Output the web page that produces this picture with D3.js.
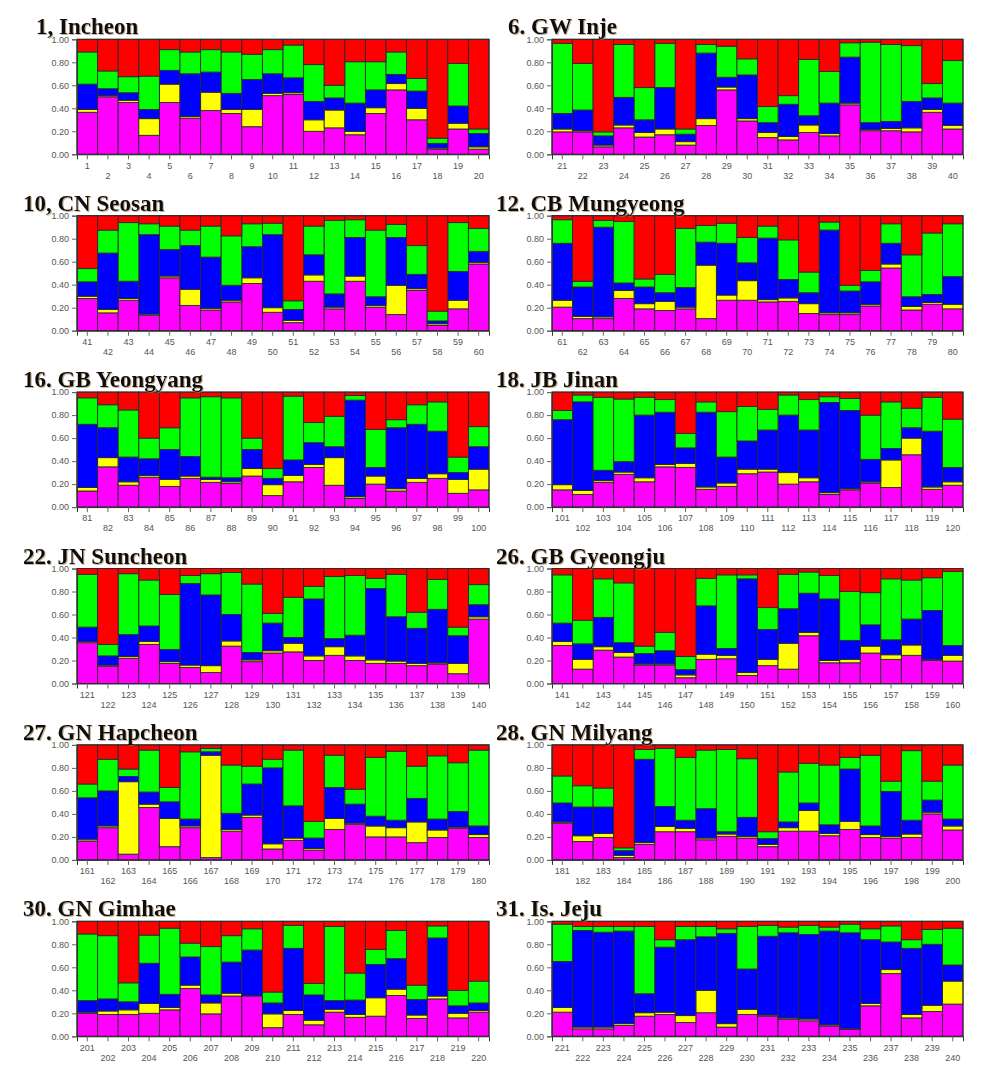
<!DOCTYPE html>
<html>
<head>
<meta charset="utf-8">
<script src="https://cdn.jsdelivr.net/npm/d3@7"></script>
<style>
  body { margin: 0; background: #fff; }
  .tick text { font-family: "Liberation Sans", Arial, sans-serif; font-size: 9px; fill: #555; }
  .tick line { stroke: #666; }
  .domain { stroke: #333; }
  .title { font-family: "Liberation Serif", "Times New Roman", serif; font-weight: bold; font-size: 23px; fill: #111; }
</style>
</head>
<body>
<div id="chart"></div>
<script>
// population titles, one per panel (reading order)
const titles = ["1, Incheon", "6. GW Inje", "10, CN Seosan", "12. CB Mungyeong",
  "16. GB Yeongyang", "18. JB Jinan", "22. JN Suncheon", "26. GB Gyeongju",
  "27. GN Hapcheon", "28. GN Milyang", "30. GN Gimhae", "31. Is. Jeju"];

const clusters = ["magenta", "yellow", "blue", "green", "red"];
const clusterColors = ["#ff00ff", "#ffff00", "#0000ff", "#00ff00", "#ff0000"];
const yTicks = [0, 0.2, 0.4, 0.6, 0.8, 1.0];

// cumulative membership (top edge of each cluster), 20 samples per panel
const magentaTop = [
  .365,.50,.45,.165,.45,.315,.38,.355,.24,.51,.52,.20,.23,.17,.355,.56,.30,.045,.22,.045,
  .195,.195,.065,.23,.15,.17,.08,.25,.56,.29,.145,.125,.19,.16,.43,.205,.205,.195,.365,.22,
  .28,.155,.265,.135,.46,.22,.18,.25,.41,.16,.07,.43,.19,.43,.205,.14,.35,.045,.19,.58,
  .205,.105,.105,.28,.19,.175,.19,.105,.265,.265,.25,.255,.15,.14,.14,.215,.545,.18,.23,.19,
  .14,.35,.19,.26,.18,.25,.215,.205,.27,.10,.22,.345,.19,.075,.20,.14,.215,.25,.12,.15,
  .15,.11,.215,.285,.22,.35,.345,.155,.18,.29,.305,.20,.22,.11,.15,.21,.17,.455,.155,.19,
  .355,.15,.22,.34,.175,.14,.095,.325,.19,.265,.275,.20,.245,.20,.175,.175,.155,.17,.085,.56,
  .33,.125,.29,.23,.16,.16,.05,.21,.215,.07,.155,.125,.415,.18,.18,.265,.21,.245,.20,.195,
  .165,.28,.05,.455,.115,.28,.02,.25,.37,.095,.17,.085,.265,.31,.20,.20,.15,.195,.275,.195,
  .32,.16,.195,.02,.135,.245,.245,.175,.205,.19,.115,.25,.25,.21,.265,.195,.19,.195,.40,.26,
  .20,.19,.19,.20,.23,.415,.195,.35,.35,.075,.19,.10,.21,.165,.175,.355,.155,.325,.16,.21,
  .21,.065,.065,.095,.175,.19,.12,.205,.08,.19,.175,.15,.135,.09,.06,.265,.545,.16,.215,.28
];
const yellowTop = [
  .39,.51,.47,.31,.61,.33,.54,.39,.39,.53,.535,.30,.385,.20,.405,.615,.40,.055,.27,.065,
  .22,.205,.08,.255,.19,.22,.11,.31,.585,.31,.19,.155,.255,.18,.445,.215,.225,.23,.39,.25,
  .30,.185,.28,.145,.475,.36,.195,.265,.46,.20,.09,.485,.205,.475,.22,.395,.365,.06,.265,.595,
  .265,.125,.12,.35,.235,.255,.205,.57,.31,.435,.27,.285,.235,.155,.155,.23,.58,.21,.245,.23,
  .17,.43,.22,.275,.24,.27,.24,.22,.335,.195,.275,.37,.43,.09,.27,.16,.25,.29,.24,.33,
  .195,.145,.23,.305,.255,.37,.38,.175,.21,.33,.33,.30,.255,.125,.16,.22,.41,.60,.175,.22,
  .365,.16,.235,.365,.19,.16,.155,.37,.205,.285,.35,.24,.32,.24,.205,.195,.175,.18,.175,.58,
  .365,.21,.32,.27,.17,.17,.075,.255,.245,.095,.21,.35,.445,.20,.21,.325,.25,.335,.21,.245,
  .18,.295,.68,.485,.36,.295,.91,.265,.39,.14,.19,.10,.36,.32,.295,.28,.33,.26,.285,.22,
  .33,.21,.23,.04,.15,.29,.275,.19,.225,.205,.135,.28,.43,.23,.335,.22,.205,.225,.415,.295,
  .21,.22,.23,.285,.25,.445,.29,.375,.355,.195,.225,.14,.235,.19,.335,.41,.185,.35,.20,.225,
  .25,.08,.08,.11,.205,.21,.18,.40,.11,.235,.185,.16,.15,.10,.065,.285,.58,.19,.27,.48
];
const blueTop = [
  .61,.57,.535,.39,.73,.70,.715,.53,.65,.70,.665,.46,.49,.445,.56,.695,.55,.095,.42,.18,
  .355,.385,.16,.495,.30,.58,.175,.88,.67,.69,.275,.435,.335,.445,.845,.275,.285,.46,.49,.445,
  .425,.675,.43,.835,.705,.74,.64,.395,.73,.835,.185,.66,.32,.81,.295,.81,.49,.085,.515,.69,
  .76,.38,.90,.415,.38,.33,.375,.77,.76,.59,.805,.445,.33,.875,.345,.425,.76,.295,.315,.47,
  .72,.69,.435,.42,.50,.44,.26,.255,.50,.25,.41,.56,.525,.93,.345,.69,.72,.66,.30,.525,
  .76,.915,.32,.395,.80,.825,.515,.825,.435,.575,.67,.80,.67,.91,.84,.415,.51,.69,.66,.345,
  .49,.24,.425,.50,.295,.87,.77,.60,.27,.525,.40,.735,.39,.42,.825,.58,.48,.645,.415,.685,
  .525,.345,.575,.355,.26,.285,.12,.675,.305,.91,.47,.65,.785,.735,.375,.51,.38,.56,.635,.33,
  .54,.60,.725,.59,.505,.355,.94,.405,.66,.80,.47,.19,.63,.485,.38,.345,.535,.355,.42,.295,
  .495,.46,.46,.08,.875,.465,.345,.445,.245,.37,.185,.33,.495,.305,.79,.295,.595,.345,.52,.355,
  .31,.325,.30,.635,.365,.69,.36,.645,.75,.29,.765,.36,.31,.315,.625,.675,.32,.855,.265,.29,
  .65,.92,.905,.915,.37,.775,.84,.865,.895,.585,.87,.90,.885,.915,.90,.84,.82,.765,.80,.62
];
const greenTop = [
  .89,.725,.675,.68,.91,.89,.91,.89,.87,.91,.95,.78,.60,.805,.805,.89,.66,.14,.79,.22,
  .965,.79,.195,.955,.58,.965,.22,.955,.94,.83,.415,.51,.825,.72,.97,.975,.955,.945,.615,.815,
  .54,.875,.94,.93,.91,.875,.91,.825,.93,.935,.26,.91,.96,.965,.875,.925,.74,.17,.94,.89,
  .965,.43,.96,.95,.45,.49,.89,.915,.935,.81,.91,.79,.51,.945,.395,.525,.93,.66,.85,.93,
  .95,.89,.845,.60,.69,.95,.96,.95,.60,.335,.965,.735,.79,.97,.675,.76,.89,.915,.435,.70,
  .84,.975,.955,.94,.955,.935,.64,.915,.83,.875,.85,.975,.935,.96,.945,.80,.915,.86,.955,.765,
  .95,.34,.955,.90,.775,.94,.955,.965,.865,.61,.75,.845,.93,.94,.915,.95,.62,.905,.49,.86,
  .945,.55,.91,.875,.325,.445,.235,.915,.945,.945,.66,.95,.97,.94,.80,.79,.91,.90,.92,.975,
  .66,.875,.79,.955,.63,.94,.97,.825,.815,.875,.955,.335,.91,.615,.89,.945,.815,.905,.845,.955,
  .73,.645,.625,.105,.96,.97,.89,.955,.96,.88,.245,.765,.84,.825,.89,.91,.685,.95,.685,.825,
  .89,.875,.465,.88,.94,.81,.78,.875,.935,.385,.965,.46,.955,.55,.755,.92,.445,.96,.40,.48,
  .975,.955,.955,.955,.955,.84,.955,.955,.935,.955,.965,.95,.965,.95,.975,.935,.96,.84,.93,.94
];

class StructurePlot {
    constructor(_config, _data) {
        this.config = {
            parent: _config.parent,
            left: _config.left,
            top: _config.top,
            width: _config.width || 412,
            height: _config.height || 115,
            title: _config.title,
            titleX: _config.titleX
        }
        this.data = _data;
        this.initVis();
    }

    initVis() {
        let vis = this;
        let c = vis.config;

        vis.g = c.parent.append("g")
            .attr("transform", `translate(${c.left},${c.top})`);

        vis.x = d3.scaleBand()
            .domain(vis.data.map(d => d.id))
            .range([0, c.width])
            .padding(0);

        vis.y = d3.scaleLinear()
            .domain([0, 1])
            .range([c.height, 0]);

        vis.color = d3.scaleOrdinal()
            .domain(clusters)
            .range(clusterColors);

        let series = d3.stack().keys(clusters)(vis.data);

        vis.g.append("g")
            .selectAll("g")
            .data(series)
            .join("g")
              .attr("fill", d => vis.color(d.key))
            .selectAll("rect")
            .data(d => d)
            .join("rect")
              .attr("x", d => vis.x(d.data.id))
              .attr("y", d => vis.y(d[1]))
              .attr("width", vis.x.bandwidth())
              .attr("height", d => vis.y(d[0]) - vis.y(d[1]))
              .attr("stroke", "#2a2a2a")
              .attr("stroke-width", 0.9);

        // frame round the plot
        vis.g.append("rect")
            .attr("width", c.width)
            .attr("height", c.height)
            .attr("fill", "none")
            .attr("stroke", "#2a2a2a")
            .attr("stroke-width", 1);

        vis.g.append("g")
            .call(d3.axisLeft(vis.y).tickValues(yTicks).tickFormat(d3.format(".2f")).tickSize(5).tickPadding(3));

        let xAxis = vis.g.append("g")
            .attr("transform", `translate(0,${c.height})`)
            .call(d3.axisBottom(vis.x).tickSize(5).tickPadding(3));

        // odd numbers on the first row, even ones dropped to a second row
        xAxis.selectAll(".tick text")
            .attr("y", (d, i) => i % 2 === 0 ? 8 : 18);

        c.parent.append("text")
            .attr("class", "title")
            .attr("x", c.titleX)
            .attr("y", c.top - 5)
            .attr("filter", "url(#shadow)")
            .text(c.title);
    }
}

const svg = d3.select("#chart").append("svg")
    .attr("width", 986)
    .attr("height", 1069);

svg.append("defs").append("filter")
    .attr("id", "shadow")
    .append("feDropShadow")
      .attr("dx", 1).attr("dy", 1)
      .attr("stdDeviation", 0.7)
      .attr("flood-color", "#a08050")
      .attr("flood-opacity", 0.6);

const colLeft = [77, 552];
const colWidth = [412, 411];
const titleX = [23, 496];

titles.forEach((t, p) => {
    let col = p % 2, row = Math.floor(p / 2);
    let rows = d3.range(20).map(i => {
        let k = p * 20 + i;
        return {
            id: String(k + 1),
            magenta: magentaTop[k],
            yellow: yellowTop[k] - magentaTop[k],
            blue: blueTop[k] - yellowTop[k],
            green: greenTop[k] - blueTop[k],
            red: 1 - greenTop[k]
        };
    });
    new StructurePlot({
        parent: svg,
        left: colLeft[col],
        top: 39.3 + row * 176.4,
        width: colWidth[col],
        title: t,
        titleX: p === 0 ? 36 : (p === 1 ? 508 : titleX[col])
    }, rows);
});
</script>
</body>
</html>
